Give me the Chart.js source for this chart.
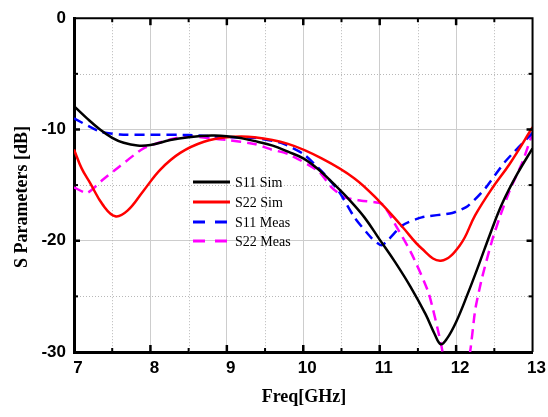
<!DOCTYPE html>
<html>
<head>
<meta charset="utf-8">
<title>S Parameters</title>
<script src="https://cdn.jsdelivr.net/npm/chart.js@4.4.0/dist/chart.umd.min.js"></script>
<style>
  html, body { margin: 0; padding: 0; background: #fff; }
</style>
</head>
<body>
<canvas id="sparamChart" width="548" height="417"></canvas>
<script>
// axis ticks
const freqTicks = [7, 8, 9, 10, 11, 12, 13];
const freqMinorTicks = [7.5, 8.5, 9.5, 10.5, 11.5, 12.5];
const dbTicks = [0, -10, -20, -30];
const dbMinorTicks = [-5, -15, -25];

// S11 simulated
const s11SimFreq = [7.0, 7.17, 7.34, 7.5, 7.65, 7.83, 8.0, 8.26, 8.5, 8.8, 9.0, 9.2, 9.4, 9.6, 9.8, 10.0, 10.2, 10.4, 10.6, 10.8, 11.0, 11.2, 11.4, 11.6, 11.72, 11.8, 11.88, 12.0, 12.15, 12.3, 12.45, 12.6, 12.8, 13.0];
const s11SimDb = [-7.9, -9.0, -10.0, -10.75, -11.2, -11.45, -11.4, -10.95, -10.7, -10.55, -10.6, -10.8, -11.1, -11.45, -12.0, -12.6, -13.6, -14.9, -16.3, -17.9, -19.9, -21.9, -24.1, -26.6, -28.4, -29.3, -28.8, -27.3, -24.8, -22.1, -19.3, -16.7, -14.0, -11.7];

// S22 simulated
const s22SimFreq = [7.0, 7.1, 7.21, 7.38, 7.54, 7.7, 7.91, 8.13, 8.39, 8.7, 9.0, 9.36, 9.8, 10.24, 10.67, 11.0, 11.29, 11.55, 11.8, 12.05, 12.25, 12.47, 12.7, 13.0];
const s22SimDb = [-11.8, -13.5, -14.8, -16.8, -17.8, -17.3, -15.5, -13.6, -12.1, -11.1, -10.7, -10.7, -11.3, -12.6, -14.4, -16.5, -18.7, -20.7, -21.8, -20.4, -17.7, -15.3, -13.1, -9.8];

// S11 measured
const s11MeasFreq = [7.0, 7.34, 7.6, 8.0, 8.5, 9.0, 9.36, 9.71, 10.0, 10.24, 10.46, 10.67, 10.9, 11.03, 11.3, 11.55, 11.95, 12.15, 12.38, 12.64, 13.0];
const s11MeasDb = [-9.0, -10.2, -10.45, -10.47, -10.5, -10.7, -10.75, -11.2, -12.2, -13.75, -15.5, -17.9, -19.8, -20.4, -18.6, -17.9, -17.5, -16.9, -15.3, -12.9, -10.3];

// S22 measured
const s22MeasFreq = [7.0, 7.17, 7.38, 7.6, 7.91, 8.26, 8.49, 8.79, 9.0, 9.36, 9.58, 9.8, 10.2, 10.37, 10.54, 10.76, 11.03, 11.2, 11.42, 11.64, 11.8, 12.0, 12.18, 12.25, 12.34, 12.47, 12.57, 12.7, 12.87, 13.0];
const s22MeasDb = [-15.2, -15.7, -14.5, -13.3, -11.7, -10.9, -10.6, -10.8, -10.95, -11.3, -11.8, -12.2, -13.75, -15.2, -16.1, -16.4, -16.7, -18.5, -21.2, -24.7, -29.2, -36, -30.1, -26.2, -23.3, -20.0, -17.9, -15.5, -12.9, -10.3];

const tickFont = { family: '"Liberation Sans", Arial, sans-serif', size: 17, weight: 'bold' };
const serifFont = '"Liberation Serif", "Times New Roman", serif';

function toPoints(xs, ys) {
    return xs.map((x, i) => ({ x: x, y: ys[i] }));
}

// dotted minor grid lines, under the curves
const minorGrid = {
    id: 'minorGrid',
    beforeDatasetsDraw(chart) {
        const { ctx, chartArea: a, scales: { x, y } } = chart;
        ctx.save();
        ctx.strokeStyle = '#b8b8b8';
        ctx.lineWidth = 1;
        ctx.setLineDash([1, 2]);
        freqMinorTicks.forEach(v => {
            const px = Math.round(x.getPixelForValue(v)) + 0.5;
            ctx.beginPath(); ctx.moveTo(px, a.top); ctx.lineTo(px, a.bottom); ctx.stroke();
        });
        dbMinorTicks.forEach(v => {
            const py = Math.round(y.getPixelForValue(v)) + 0.5;
            ctx.beginPath(); ctx.moveTo(a.left, py); ctx.lineTo(a.right, py); ctx.stroke();
        });
        ctx.restore();
    }
};

// top/right frame, inward tick marks, axis titles and legend
const frameAndLegend = {
    id: 'frameAndLegend',
    afterDatasetsDraw(chart) {
        const { ctx, chartArea: a, scales: { x, y } } = chart;
        ctx.save();
        ctx.strokeStyle = '#000';
        ctx.setLineDash([]);

        ctx.lineWidth = 2;
        ctx.beginPath();
        ctx.moveTo(a.left, a.top); ctx.lineTo(a.right, a.top); ctx.lineTo(a.right, a.bottom);
        ctx.stroke();

        const tick = (x1, y1, x2, y2) => {
            ctx.beginPath(); ctx.moveTo(x1, y1); ctx.lineTo(x2, y2); ctx.stroke();
        };
        ctx.lineWidth = 2.5;
        freqTicks.slice(1, -1).forEach(v => {
            const px = x.getPixelForValue(v);
            tick(px, a.bottom, px, a.bottom - 7);
            tick(px, a.top, px, a.top + 7);
        });
        dbTicks.slice(1, -1).forEach(v => {
            const py = y.getPixelForValue(v);
            tick(a.left, py, a.left + 6, py);
            tick(a.right, py, a.right - 6, py);
        });
        ctx.lineWidth = 2;
        freqMinorTicks.forEach(v => {
            const px = x.getPixelForValue(v);
            tick(px, a.bottom, px, a.bottom - 4);
            tick(px, a.top, px, a.top + 4);
        });
        dbMinorTicks.forEach(v => {
            const py = y.getPixelForValue(v);
            tick(a.left, py, a.left + 4, py);
            tick(a.right, py, a.right - 4, py);
        });

        // axis titles
        ctx.fillStyle = '#000';
        ctx.font = 'bold 18px ' + serifFont;
        ctx.textAlign = 'center';
        ctx.textBaseline = 'middle';
        ctx.fillText('Freq[GHz]', 304, 397);
        ctx.translate(22, 197);
        ctx.rotate(-Math.PI / 2);
        ctx.fillText('S Parameters [dB]', 0, 0);
        ctx.setTransform(1, 0, 0, 1, 0, 0);

        // legend
        const rows = [182, 202, 222, 241];
        ctx.font = '14px ' + serifFont;
        ctx.textAlign = 'left';
        chart.data.datasets.forEach((ds, i) => {
            ctx.strokeStyle = ds.borderColor;
            ctx.lineWidth = 3;
            ctx.setLineDash(ds.borderDash.length ? [12, 10] : []);
            tick(193, rows[i], 230, rows[i]);
            ctx.fillStyle = '#000';
            ctx.fillText(ds.label, 235, rows[i] + 1);
        });
        ctx.restore();
    }
};

function makeChart() {
    const ctx = document.getElementById('sparamChart').getContext('2d');
    const series = (label, xs, ys, color, dash, tension) => ({
        label: label,
        data: toPoints(xs, ys),
        borderColor: color,
        borderWidth: 2.5,
        borderDash: dash,
        pointRadius: 0,
        tension: tension,
        fill: false
    });

    return new Chart(ctx, {
        type: 'line',
        data: {
            datasets: [
                series('S11 Sim', s11SimFreq, s11SimDb, '#000000', [], 0.4),
                series('S22 Sim', s22SimFreq, s22SimDb, '#ff0000', [], 0.4),
                series('S11 Meas', s11MeasFreq, s11MeasDb, '#0000ff', [10, 6], 0.2),
                series('S22 Meas', s22MeasFreq, s22MeasDb, '#ff00ff', [10, 6], 0.2)
            ]
        },
        options: {
            responsive: false,
            animation: false,
            layout: { padding: { top: 16, right: 15, left: 0, bottom: 0 } },
            plugins: { legend: { display: false }, tooltip: { enabled: false } },
            scales: {
                x: {
                    type: 'linear',
                    min: 7,
                    max: 13,
                    afterFit: s => { s.height = 65; },
                    afterBuildTicks: s => { s.ticks = freqTicks.map(v => ({ value: v })); },
                    ticks: { font: tickFont, color: '#000', padding: 6, labelOffset: 4, maxRotation: 0 },
                    grid: {
                        drawTicks: false,
                        color: c => (c.tick && (c.tick.value === 7 || c.tick.value === 13)) ? 'rgba(0,0,0,0)' : '#cdcdcd'
                    },
                    border: { color: '#000', width: 3 }
                },
                y: {
                    type: 'linear',
                    min: -30,
                    max: 0,
                    afterFit: s => { s.width = 74; },
                    afterBuildTicks: s => { s.ticks = dbTicks.map(v => ({ value: v })); },
                    ticks: { font: tickFont, color: '#000', padding: 8 },
                    grid: {
                        drawTicks: false,
                        color: c => (c.tick && (c.tick.value === 0 || c.tick.value === -30)) ? 'rgba(0,0,0,0)' : '#cdcdcd'
                    },
                    border: { color: '#000', width: 3 }
                }
            }
        },
        plugins: [minorGrid, frameAndLegend]
    });
}

window.onload = function() {
    makeChart();
};
</script>
</body>
</html>
